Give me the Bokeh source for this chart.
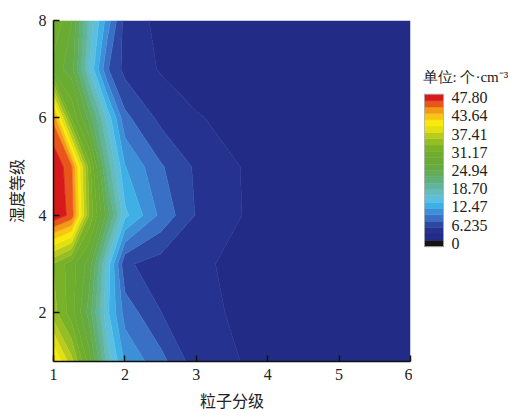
import numpy as np
from bokeh.plotting import figure
from bokeh.layouts import row
from bokeh.models import Range1d, FixedTicker
from bokeh.core.properties import value
from bokeh.embed import file_html
from bokeh.resources import INLINE

# ---- data -------------------------------------------------------------
# particle grade (x) positions where the field is read
X_GRADES = [1, 1.25, 1.5, 1.75, 2, 2.5, 3, 4, 5, 6]
# humidity grade (y)
Y_GRADES = [1, 2, 3, 4, 5, 6, 7, 8]

# concentration (个·cm^-3) for each humidity grade, along X_GRADES
HUM_1 = [40.0, 34.0, 26.0, 16.0, 10.0, 7.0, 3.0, 1.5, 1.0, 1.0]
HUM_2 = [32.0, 28.0, 22.0, 13.0, 7.5, 4.2, 2.6, 1.3, 1.0, 1.0]
HUM_3 = [31.0, 28.0, 24.0, 14.0, 4.5, 3.2, 2.4, 1.2, 1.0, 1.0]
HUM_4 = [47.5, 45.0, 31.0, 22.0, 13.0, 7.8, 4.0, 1.0, 1.0, 1.0]
HUM_5 = [47.8, 44.0, 30.0, 18.0, 10.5, 6.5, 3.8, 1.0, 1.0, 1.0]
HUM_6 = [43.0, 29.0, 22.0, 14.0, 6.8, 3.6, 2.2, 1.2, 1.0, 1.0]
HUM_7 = [26.0, 24.0, 14.5, 6.5, 3.5, 1.9, 1.3, 1.0, 1.0, 1.0]
HUM_8 = [29.0, 25.0, 16.0, 9.5, 3.3, 1.5, 1.2, 1.0, 1.0, 1.0]

X_TICKS = [1, 2, 3, 4, 5, 6]
Y_TICKS = [2, 4, 6, 8]

CB_TICK_LABELS = ["0", "6.235", "12.47", "18.70", "24.94", "31.17", "37.41", "43.64", "47.80"]
LEVEL_STEP = 6.235 / 3

PALETTE = [
    "#141414", "#222c87", "#25328f", "#2c48a3", "#3a6fc6", "#3d8fd8",
    "#3fb0e6", "#5abfe0", "#65bcc0", "#61b59c", "#5fb07a", "#62ad5a",
    "#66ab42", "#6aab34", "#6fad2c", "#79b229", "#95be24", "#b9cc1d",
    "#e0e013", "#f9ea0c", "#f7c514", "#f29a17", "#e8561b", "#d7191c",
]

Z = np.array([HUM_1, HUM_2, HUM_3, HUM_4, HUM_5, HUM_6, HUM_7, HUM_8])
levels = [-LEVEL_STEP] + [k * LEVEL_STEP for k in range(len(PALETTE) - 1)] + [48.5]
# each contour line takes the colour of the band just above it (hides seams)
line_colors = [PALETTE[min(i, len(PALETTE) - 1)] for i in range(len(levels))]

SERIF = "Liberation Serif"
CJK = "Noto Sans CJK SC"

# ---- main contour figure ---------------------------------------------
p = figure(frame_width=357, frame_height=341, x_range=Range1d(1, 6), y_range=Range1d(1, 8),
           output_backend="svg", toolbar_location=None,
           min_border_left=44, min_border_right=2, min_border_top=20, min_border_bottom=46)
p.contour(x=np.array(X_GRADES, dtype=float), y=np.array(Y_GRADES, dtype=float), z=Z,
          levels=levels, fill_color=PALETTE, line_color=line_colors, line_width=0.8)

p.grid.visible = False
p.outline_line_color = None
p.background_fill_color = "white"
p.border_fill_color = "white"

p.xaxis.ticker = FixedTicker(ticks=X_TICKS)
p.yaxis.ticker = FixedTicker(ticks=Y_TICKS)
for ax in (p.xaxis[0], p.yaxis[0]):
    ax.major_tick_in = 6
    ax.major_tick_out = 0
    ax.minor_tick_line_color = None
    ax.axis_line_color = "#111111"
    ax.axis_line_width = 1.5
    ax.major_tick_line_color = "#111111"
    ax.major_tick_line_width = 1.5
    ax.major_label_text_font = SERIF
    ax.major_label_text_font_size = "16px"
    ax.major_label_text_color = "#222222"
    ax.axis_label_text_font = CJK
    ax.axis_label_text_font_size = "16px"
    ax.axis_label_text_font_style = "normal"
    ax.axis_label_text_color = "#222222"
p.xaxis.axis_label = "粒子分级"
p.yaxis.axis_label = "湿度等级"
p.xaxis.major_label_standoff = 7
p.xaxis.axis_label_standoff = 5
p.yaxis.major_label_standoff = 7
p.yaxis.axis_label_standoff = 8

# ---- colour bar as its own small figure -------------------------------
cb = figure(width=96, height=407, x_range=Range1d(0, 96), y_range=Range1d(407, 0),
            output_backend="svg", toolbar_location=None,
            min_border=0, min_border_left=0, min_border_right=0,
            min_border_top=0, min_border_bottom=0)
cb.axis.visible = False
cb.grid.visible = False
cb.outline_line_color = None

n = len(PALETTE)
bar_top, bar_bottom, bar_left, bar_right = 90.0, 275.5, 12.0, 31.0
band_h = (bar_bottom - bar_top) / n
idx = np.arange(n)
cb.quad(left=bar_left, right=bar_right,
        bottom=bar_bottom - idx * band_h, top=bar_bottom - (idx + 1) * band_h,
        fill_color=PALETTE, line_color=PALETTE, line_width=0.5)
cb.quad(left=[bar_left], right=[bar_right], bottom=[bar_bottom], top=[bar_top],
        fill_color=None, line_color="#b0b0b0", line_width=0.8)

c0 = bar_bottom - band_h / 2
c1 = bar_top + band_h / 2
m = len(CB_TICK_LABELS)
label_y = [c0 + k * (c1 - c0) / (m - 1) for k in range(m)]
cb.text(x=[39] * m, y=label_y, text=CB_TICK_LABELS, text_font=value(SERIF),
        text_font_size="16px", text_baseline="middle", text_align="left",
        text_color="#222222")
cb.text(x=[10], y=[69], text=["单位: 个·cm⁻³"], text_font=value(SERIF),
        text_font_size="15px", text_baseline="middle", text_align="left",
        text_color="#222222")

layout = row(p, cb)
open("out.html", "w").write(file_html(layout, INLINE))
